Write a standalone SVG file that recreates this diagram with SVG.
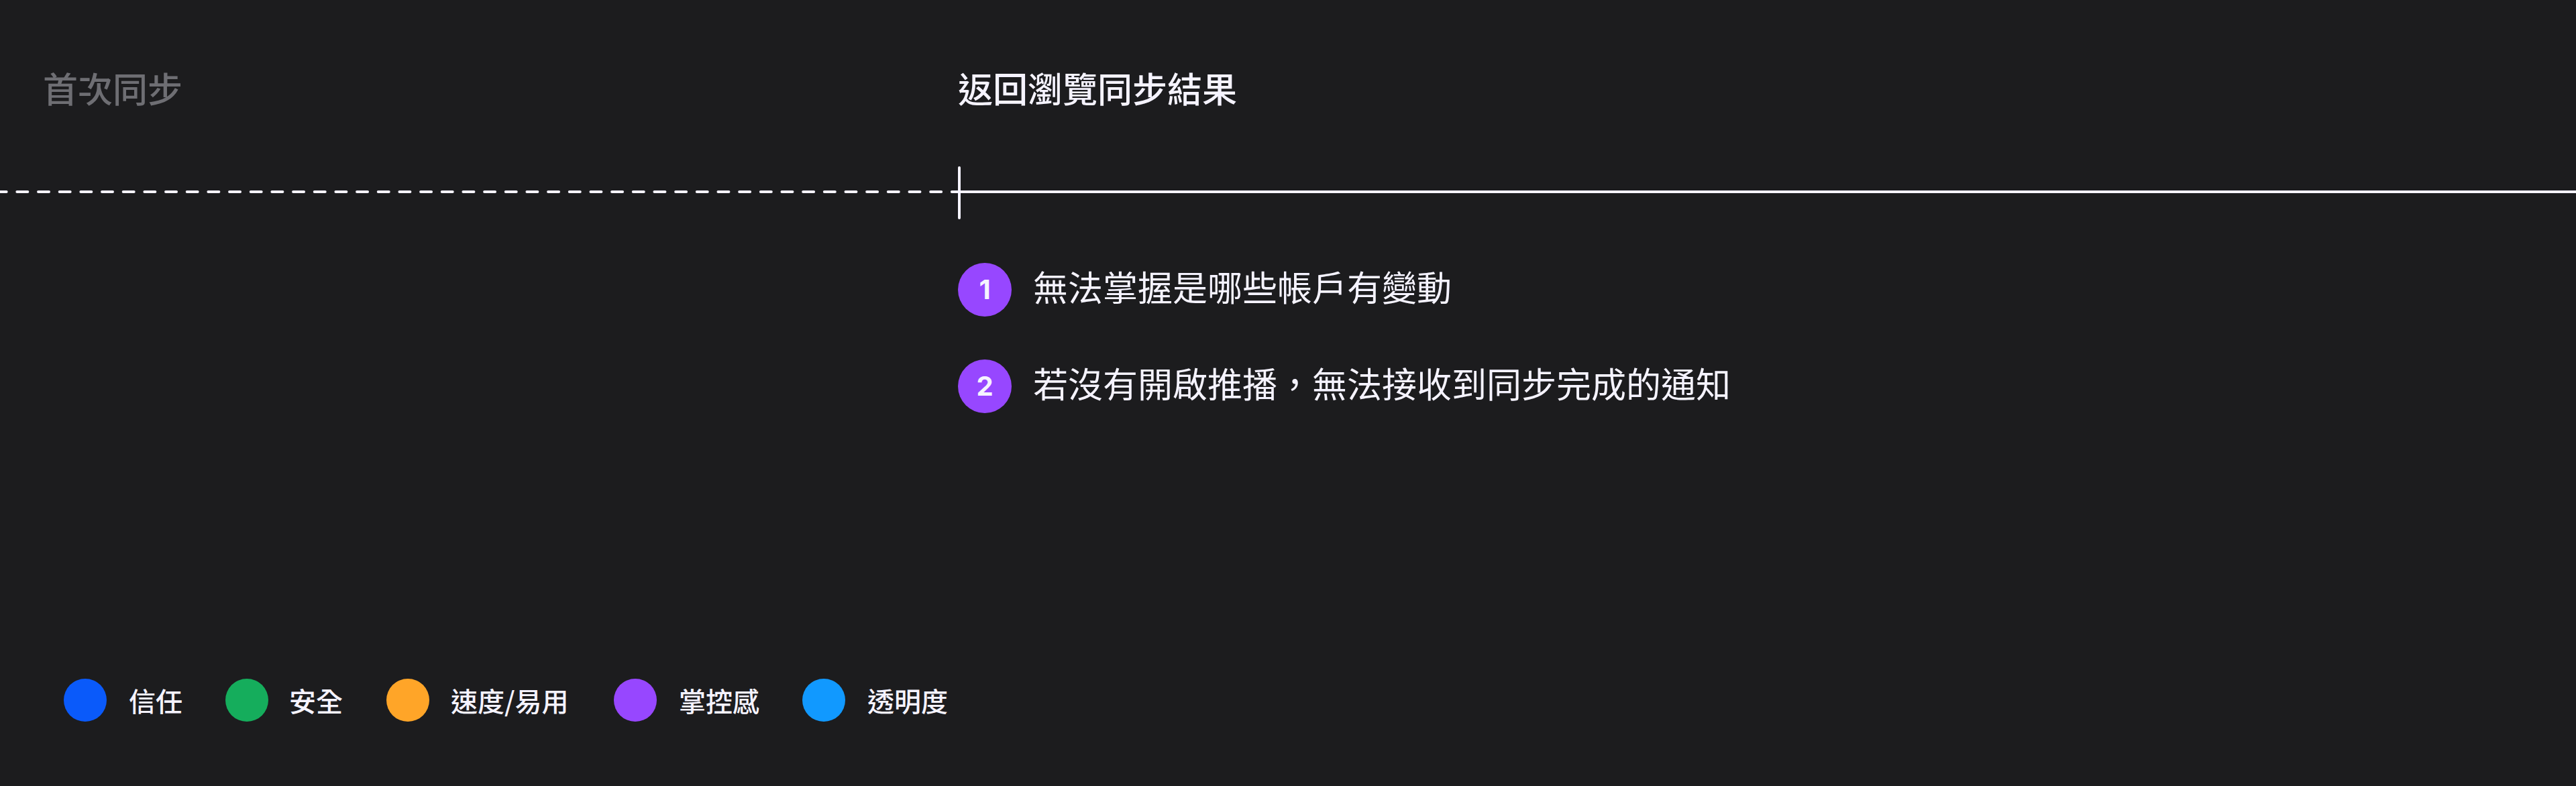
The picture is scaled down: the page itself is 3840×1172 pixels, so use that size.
<svg xmlns="http://www.w3.org/2000/svg" width="3840" height="1172" viewBox="0 0 3840 1172">
  <style>
    .t { font-family: "Noto Sans CJK TC", "Noto Sans", sans-serif; }
    .head { font-size: 52px; font-weight: 500; }
    .item { font-size: 52px; font-weight: 400; fill: #F5F3FF; }
    .num { font-family: Inter, "Liberation Sans", sans-serif; font-size: 40px; font-weight: 700; fill: #F5F3FF; }
    .leg { font-size: 40px; font-weight: 500; fill: #F5F3FF; }
    .ln { stroke: #F5F3FF; stroke-width: 4; stroke-linecap: round; fill: none; }
  </style>
  <rect width="3840" height="1172" fill="#1C1C1E"/>

  <g id="connectors">
    <line class="ln" x1="-6.33" y1="286" x2="1430" y2="286" stroke-dasharray="16 15.67"/>
    <line class="ln" x1="1430" y1="286" x2="3850" y2="286"/>
    <line class="ln" x1="1430" y1="250" x2="1430" y2="325" stroke-width="3.5"/>
  </g>

  <g id="stage-first-sync">
    <text class="t head" x="64" y="153" fill="#6E6E73">首次同步</text>
  </g>

  <g id="stage-return">
    <text class="t head" x="1428" y="153" fill="#F5F3FF">返回瀏覽同步結果</text>
  </g>

  <g id="item-1">
    <circle cx="1468" cy="432" r="40" fill="#9747FF"/>
    <text class="num" x="1468" y="446" text-anchor="middle">1</text>
    <text class="t item" x="1540" y="449">無法掌握是哪些帳戶有變動</text>
  </g>

  <g id="item-2">
    <circle cx="1468" cy="576" r="40" fill="#9747FF"/>
    <text class="num" x="1468" y="590" text-anchor="middle">2</text>
    <text class="t item" x="1540" y="593">若沒有開啟推播，無法接收到同步完成的通知</text>
  </g>

  <g id="legend">
    <g id="legend-trust">
      <circle cx="127" cy="1044" r="32" fill="#0A5AFA"/>
      <text class="t leg" x="192" y="1061">信任</text>
    </g>
    <g id="legend-safety">
      <circle cx="368" cy="1044" r="32" fill="#15AD5C"/>
      <text class="t leg" x="431" y="1061">安全</text>
    </g>
    <g id="legend-speed">
      <circle cx="608" cy="1044" r="32" fill="#FFA528"/>
      <text class="t leg" x="672" y="1061">速度/易用</text>
    </g>
    <g id="legend-control">
      <circle cx="947" cy="1044" r="32" fill="#9747FF"/>
      <text class="t leg" x="1012" y="1061">掌控感</text>
    </g>
    <g id="legend-transparency">
      <circle cx="1228" cy="1044" r="32" fill="#1199FF"/>
      <text class="t leg" x="1293" y="1061">透明度</text>
    </g>
  </g>
</svg>
